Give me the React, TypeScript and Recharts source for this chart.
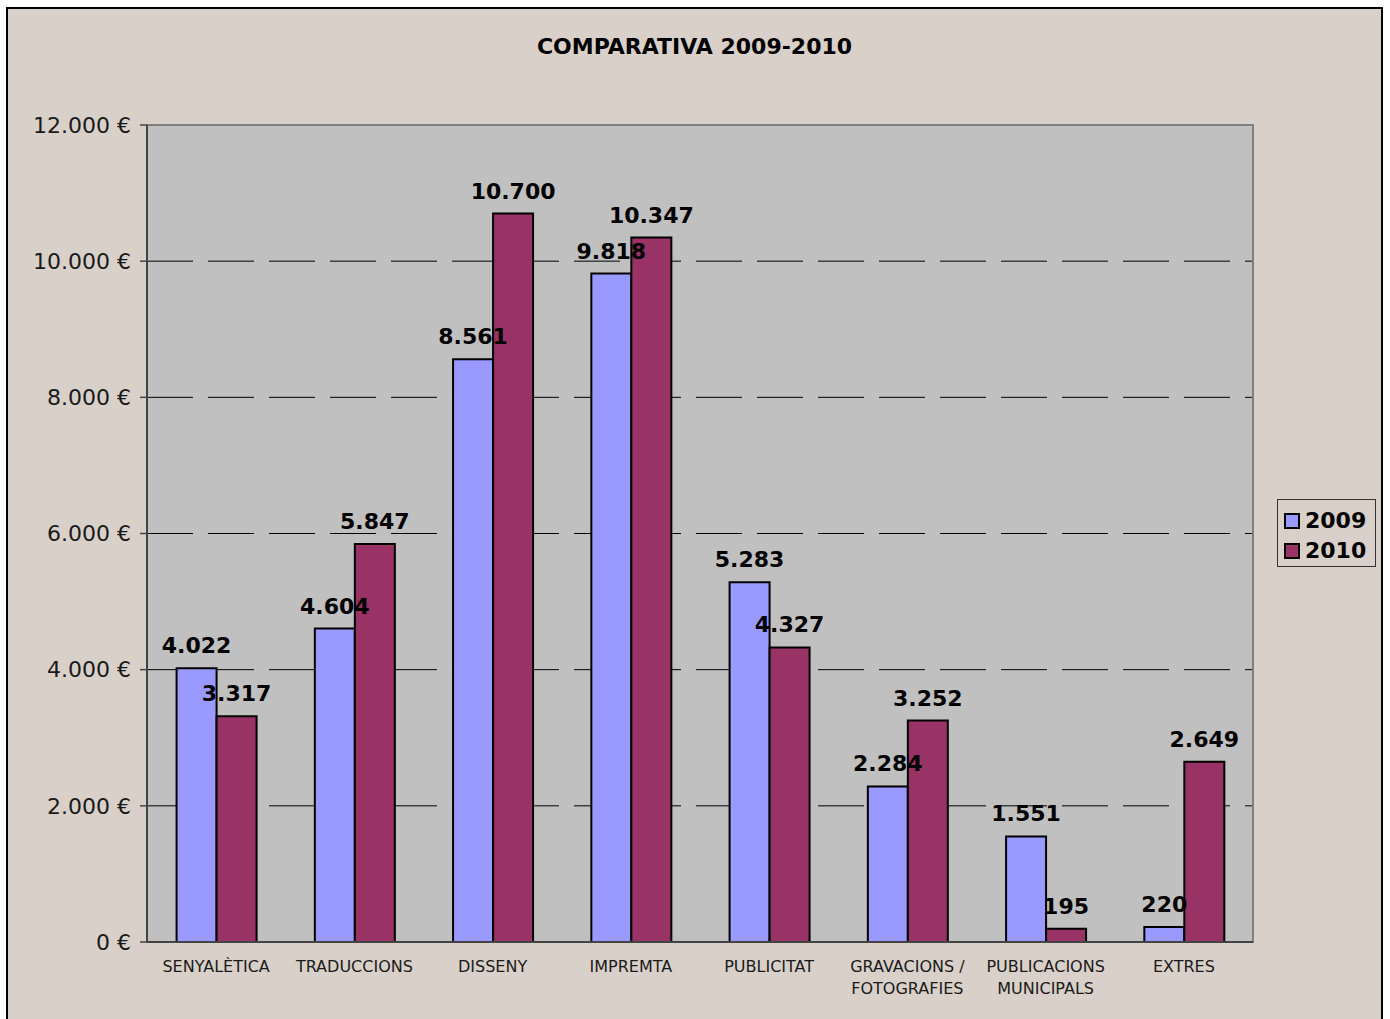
import React from 'react';
import { BarChart, Bar, XAxis, YAxis, CartesianGrid, Legend, LabelList, ReferenceArea } from 'recharts';

const categories = [
  'SENYALÈTICA',
  'TRADUCCIONS',
  'DISSENY',
  'IMPREMTA',
  'PUBLICITAT',
  'GRAVACIONS /\nFOTOGRAFIES',
  'PUBLICACIONS\nMUNICIPALS',
  'EXTRES',
];
const values2009 = [4022, 4604, 8561, 9818, 5283, 2284, 1551, 220];
const values2010 = [3317, 5847, 10700, 10347, 4327, 3252, 195, 2649];
const yTicks = [0, 2000, 4000, 6000, 8000, 10000, 12000];
const boundaryTicks = [0, 1, 2, 3, 4, 5, 6, 7, 8];
const seriesNames = ['2009', '2010'];
const title = 'COMPARATIVA 2009-2010';

const data = categories.map((c, i) => ({
  category: c,
  y2009: values2009[i],
  y2010: values2010[i],
}));

const FONT = '"DejaVu Sans", Verdana, sans-serif';

const fmt = (n: number) => String(n).replace(/\B(?=(\d{3})+(?!\d))/g, '.');

const CategoryTick = (props: any) => {
  const { x, y, payload } = props;
  const lines = String(payload.value).split('\n');
  return (
    <text x={x} y={y} textAnchor="middle" fontSize={16} fill="#1a1a1a" fontFamily={FONT}>
      {lines.map((l, i) => (
        <tspan key={i} x={x} dy={i === 0 ? 30 : 21.5}>
          {l}
        </tspan>
      ))}
    </text>
  );
};

const LegendContent = (props: any) => {
  const { payload } = props;
  return (
    <div
      style={{
        width: 99,
        height: 68,
        boxSizing: 'border-box',
        border: '1px solid #333',
        paddingTop: 7,
        paddingLeft: 6,
        fontFamily: FONT,
      }}
    >
      {(payload || []).map((p: any, i: number) => (
        <div key={i} style={{ display: 'flex', alignItems: 'center', height: 34 - (i === 0 ? 7 : 0) }}>
          <span
            style={{
              display: 'inline-block',
              width: 16,
              height: 16,
              boxSizing: 'border-box',
              border: '2px solid #000',
              background: p.color,
              marginRight: 5,
            }}
          />
          <span style={{ fontSize: 22, fontWeight: 'bold', color: '#000', lineHeight: '22px' }}>{p.value}</span>
        </div>
      ))}
    </div>
  );
};

export default function App() {
  return (
    <div
      style={{
        position: 'absolute',
        left: 6,
        top: 7,
        width: 1377,
        height: 1030,
        boxSizing: 'border-box',
        border: '2px solid #000',
        background: '#D9D0C9',
      }}
    >
      <div
        style={{
          position: 'absolute',
          left: 0,
          top: 27,
          width: 1373,
          textAlign: 'center',
          fontFamily: FONT,
          fontWeight: 'bold',
          fontSize: 22,
          lineHeight: '22px',
          color: '#000',
        }}
      >
        {title}
      </div>
      <div style={{ position: 'absolute', left: 0, top: 0 }}>
        <BarChart
          width={1373}
          height={1005}
          data={data}
          margin={{ top: 116, right: 128, bottom: 12, left: 0 }}
          barCategoryGap="21.4%"
          barGap={0}
        >
          <CartesianGrid
            xAxisId="cat"
            yAxisId={0}
            vertical={false}
            fill="#C0C0C0"
            fillOpacity={1}
            stroke="#000"
            strokeDasharray="46 15"
          />
          <ReferenceArea
            xAxisId="cat"
            yAxisId={0}
            y1={0}
            y2={12000}
            fill="none"
            fillOpacity={0}
            stroke="#808080"
            strokeWidth={2}
          />
          <XAxis
            xAxisId="bnd"
            type="number"
            domain={[0, 8]}
            ticks={boundaryTicks}
            allowDataOverflow
            height={0}
            tick={false}
            axisLine={false}
            tickLine={{ stroke: '#444', strokeWidth: 1.5 }}
            tickSize={6}
          />
          <XAxis
            xAxisId="cat"
            dataKey="category"
            height={60}
            interval={0}
            tickLine={false}
            tickSize={0}
            tickMargin={0}
            axisLine={{ stroke: '#444', strokeWidth: 2 }}
            tick={<CategoryTick />}
          />
          <YAxis
            yAxisId={0}
            width={139}
            domain={[0, 12000]}
            ticks={yTicks}
            interval={0}
            tickFormatter={(v: number) => `${fmt(v)} €`}
            tick={{ fontSize: 22, fill: '#1a1a1a', fontFamily: FONT }}
            tickSize={7}
            tickMargin={9}
            tickLine={{ stroke: '#444', strokeWidth: 1.5 }}
            axisLine={{ stroke: '#444', strokeWidth: 2 }}
          />
          <Legend
            layout="vertical"
            verticalAlign="middle"
            align="center"
            wrapperStyle={{ left: 1269, top: 490, width: 99, height: 68 }}
            content={<LegendContent />}
          />
          <Bar
            xAxisId="cat"
            yAxisId={0}
            dataKey="y2009"
            name={seriesNames[0]}
            fill="#9999FF"
            stroke="#000"
            strokeWidth={2}
            isAnimationActive={false}
          >
            <LabelList
              dataKey="y2009"
              position="top"
              offset={15}
              formatter={(v: any) => fmt(Number(v))}
              style={{ fontSize: 22, fontWeight: 'bold', fill: '#000', fontFamily: FONT }}
            />
          </Bar>
          <Bar
            xAxisId="cat"
            yAxisId={0}
            dataKey="y2010"
            name={seriesNames[1]}
            fill="#993366"
            stroke="#000"
            strokeWidth={2}
            isAnimationActive={false}
          >
            <LabelList
              dataKey="y2010"
              position="top"
              offset={15}
              formatter={(v: any) => fmt(Number(v))}
              style={{ fontSize: 22, fontWeight: 'bold', fill: '#000', fontFamily: FONT }}
            />
          </Bar>
        </BarChart>
      </div>
    </div>
  );
}
